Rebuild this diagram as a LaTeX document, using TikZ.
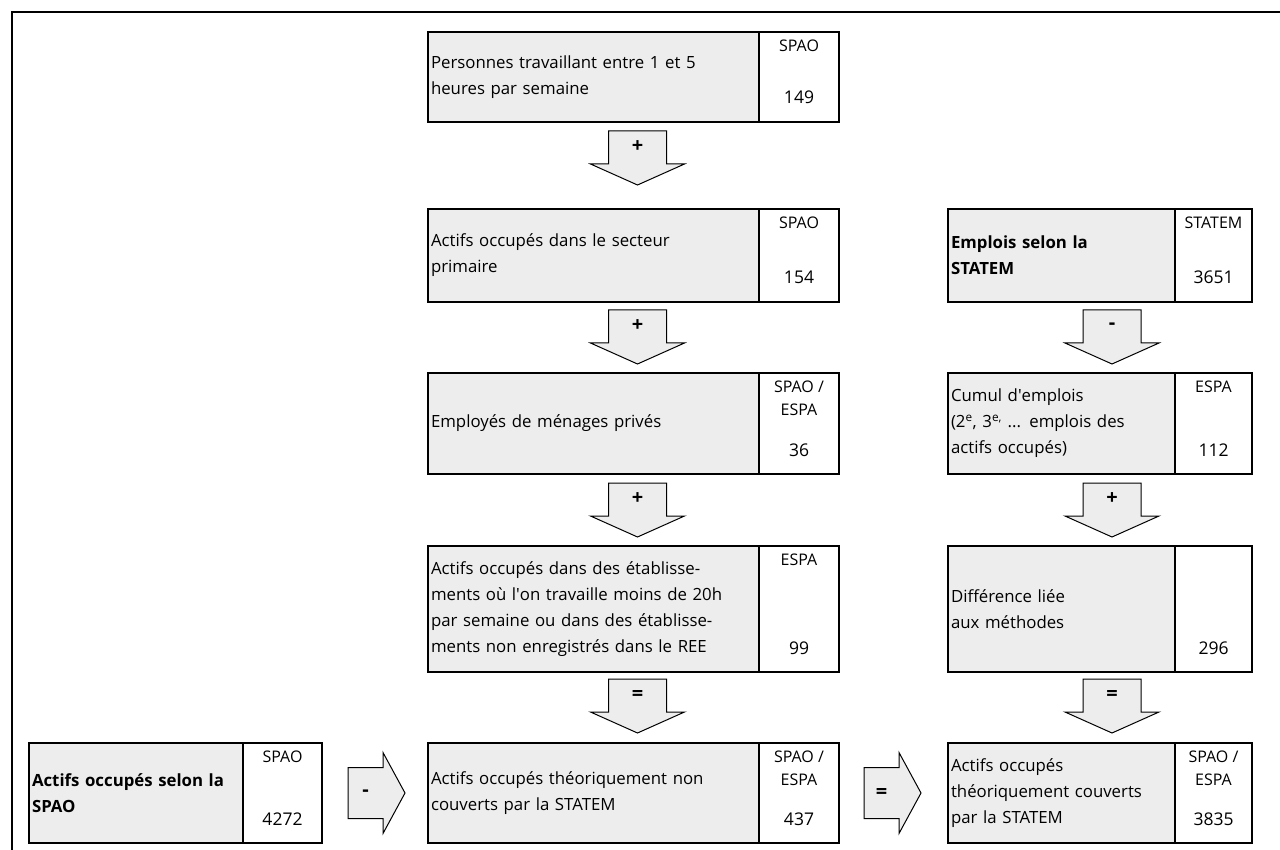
\documentclass[tikz,border=0pt]{standalone}
\usepackage{fontspec}
\setmainfont{Open Sans}
\usetikzlibrary{positioning, calc}

\tikzset{
  mainbox/.style={draw, line width=1.6pt, fill=black!7, anchor=north west, align=left,
    inner xsep=3pt, outer sep=0pt, font=\fontsize{16.8}{26}\selectfont},
  srcbox/.style={draw, line width=1.6pt, fill=white, anchor=north west, inner sep=0pt, outer sep=0pt},
  srctext/.style={anchor=north, align=center, inner sep=0pt, yshift=-8pt,
    font=\fontsize{16}{23}\selectfont},
  numtext/.style={anchor=base, inner sep=0pt, yshift=18pt, font=\fontsize{17.5}{18}\selectfont},
  arrowbody/.style={draw, line width=1pt, fill=black!7},
  downarrow/.pic={
    \draw[arrowbody] (-29,0) -- (29,0) -- (29,33) -- (47,33) -- (0,54) -- (-47,33) -- (-29,33) -- cycle;
    \node[font=\fontsize{20}{20}\selectfont\bfseries] (-op) at (0,16) {\tikzpictext};
  },
  rightarrow/.pic={
    \draw[arrowbody] (0,-25.5) -- (35,-25.5) -- (35,-40.5) -- (57,0) -- (35,40.5) -- (35,25.5) -- (0,25.5) -- cycle;
    \node[font=\fontsize{20}{20}\selectfont\bfseries] (-op) at (17.5,0) {\tikzpictext};
  }
}

\begin{document}
\begin{tikzpicture}[x=1pt, y=-1pt]
    \useasboundingbox (0,0) rectangle (1280,850);

    % Frame along the top and left edges
    \draw[line width=2.4pt] (1280,12) -- (12,12) -- (12,850);

    % Left column: persons working 1 to 5 hours
    \node[mainbox, text width=325pt, minimum height=90pt] (pers) at (428,32)
        {Personnes travaillant entre 1 et 5\\heures par semaine};
    \node[srcbox, minimum width=80pt, minimum height=90pt] (pers-src) at (pers.north east) {};
    \node[srctext] (pers-s) at (pers-src.north) {SPAO};
    \node[numtext] (pers-n) at (pers-src.south) {149};

    % Primary sector
    \node[mainbox, text width=325pt, minimum height=93pt] (prim) at (428,209)
        {Actifs occupés dans le secteur\\primaire};
    \node[srcbox, minimum width=80pt, minimum height=93pt] (prim-src) at (prim.north east) {};
    \node[srctext] (prim-s) at (prim-src.north) {SPAO};
    \node[numtext] (prim-n) at (prim-src.south) {154};

    % Private households
    \node[mainbox, text width=325pt, minimum height=101pt] (menag) at (428,373)
        {Employés de ménages privés};
    \node[srcbox, minimum width=80pt, minimum height=101pt] (menag-src) at (menag.north east) {};
    \node[srctext] (menag-s) at (menag-src.north) {SPAO /\\ESPA};
    \node[numtext] (menag-n) at (menag-src.south) {36};

    % Establishments under 20h or not in the REE
    \node[mainbox, text width=325pt, minimum height=126pt] (etab) at (428,546)
        {Actifs occupés dans des établisse-\\ments où l\textquotesingle on travaille moins de 20h\\par semaine ou dans des établisse-\\ments non enregistrés dans le REE};
    \node[srcbox, minimum width=80pt, minimum height=126pt] (etab-src) at (etab.north east) {};
    \node[srctext] (etab-s) at (etab-src.north) {ESPA};
    \node[numtext] (etab-n) at (etab-src.south) {99};

    % Not covered by the STATEM
    \node[mainbox, text width=325pt, minimum height=100pt] (noncouv) at (428,743)
        {Actifs occupés théoriquement non\\couverts par la STATEM};
    \node[srcbox, minimum width=80pt, minimum height=100pt] (noncouv-src) at (noncouv.north east) {};
    \node[srctext] (noncouv-s) at (noncouv-src.north) {SPAO /\\ESPA};
    \node[numtext] (noncouv-n) at (noncouv-src.south) {437};

    % Right column: jobs according to the STATEM
    \node[mainbox, text width=221pt, minimum height=93pt, font=\fontsize{16.8}{26}\selectfont\bfseries] (statem) at (948,209)
        {Emplois selon la\\STATEM};
    \node[srcbox, minimum width=77pt, minimum height=93pt] (statem-src) at (statem.north east) {};
    \node[srctext] (statem-s) at (statem-src.north) {STATEM};
    \node[numtext] (statem-n) at (statem-src.south) {3651};

    % Multiple jobs
    \node[mainbox, text width=221pt, minimum height=101pt] (cumul) at (948,373)
        {Cumul d\textquotesingle emplois\\(2\textsuperscript{e}, 3\textsuperscript{e,} ... emplois des\\actifs occupés)};
    \node[srcbox, minimum width=77pt, minimum height=101pt] (cumul-src) at (cumul.north east) {};
    \node[srctext] (cumul-s) at (cumul-src.north) {ESPA};
    \node[numtext] (cumul-n) at (cumul-src.south) {112};

    % Method difference
    \node[mainbox, text width=221pt, minimum height=126pt] (methode) at (948,546)
        {Différence liée\\aux méthodes};
    \node[srcbox, minimum width=77pt, minimum height=126pt] (methode-src) at (methode.north east) {};
    \node[numtext] (methode-n) at (methode-src.south) {296};

    % Covered by the STATEM
    \node[mainbox, text width=221pt, minimum height=100pt] (couv) at (948,743)
        {Actifs occupés\\théoriquement couverts\\par la STATEM};
    \node[srcbox, minimum width=77pt, minimum height=100pt] (couv-src) at (couv.north east) {};
    \node[srctext] (couv-s) at (couv-src.north) {SPAO /\\ESPA};
    \node[numtext] (couv-n) at (couv-src.south) {3835};

    % Bottom left: employed persons according to the SPAO
    \node[mainbox, text width=208pt, minimum height=100pt, font=\fontsize{16.8}{26}\selectfont\bfseries] (spao) at (29,743)
        {Actifs occupés selon la\\SPAO};
    \node[srcbox, minimum width=79pt, minimum height=100pt] (spao-src) at (spao.north east) {};
    \node[srctext] (spao-s) at (spao-src.north) {SPAO};
    \node[numtext] (spao-n) at (spao-src.south) {4272};

    % Block arrows, left column
    \pic[pic text=+] (a1) at ($(pers.south west)!0.5!(pers-src.south east)+(4,9)$) {downarrow};
    \pic[pic text=+] (a2) at ($(prim.south west)!0.5!(prim-src.south east)+(4,8)$) {downarrow};
    \pic[pic text=+] (a3) at ($(menag.south west)!0.5!(menag-src.south east)+(4,9)$) {downarrow};
    \pic[pic text={=}] (a4) at ($(etab.south west)!0.5!(etab-src.south east)+(4,7)$) {downarrow};

    % Block arrows, right column
    \pic[pic text=-] (b1) at ($(statem.south west)!0.5!(statem-src.south east)+(12,8)$) {downarrow};
    \pic[pic text=+] (b2) at ($(cumul.south west)!0.5!(cumul-src.south east)+(12,9)$) {downarrow};
    \pic[pic text={=}] (b3) at ($(methode.south west)!0.5!(methode-src.south east)+(12,7)$) {downarrow};

    % Block arrows along the bottom row
    \pic[pic text=-] (h1) at ($(spao-src.east)+(26,0)$) {rightarrow};
    \pic[pic text={=}] (h2) at ($(noncouv-src.east)+(25,0)$) {rightarrow};

\end{tikzpicture}
\end{document}
